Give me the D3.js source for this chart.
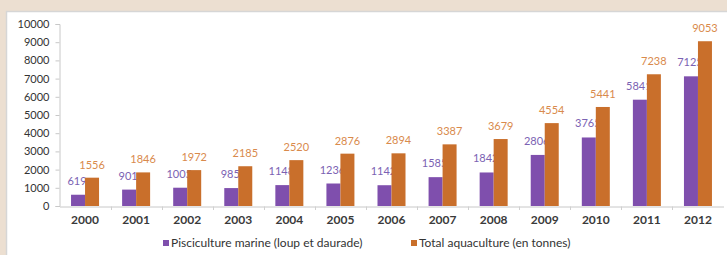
<!DOCTYPE html>
<html><head><meta charset="utf-8">
<script src="https://cdn.jsdelivr.net/npm/d3@7"></script>
<style>
html,body{margin:0;padding:0;background:#ecdfd1;overflow:hidden;}
svg{display:block;}
</style></head>
<body><svg id="c" width="727" height="255"></svg>
<script>
const years = ["2000","2001","2002","2003","2004","2005","2006","2007","2008","2009","2010","2011","2012"];
const pisciculture = [619,901,1005,985,1148,1236,1142,1585,1842,2806,3765,5841,7125];
const totalAqua = [1556,1846,1972,2185,2520,2876,2894,3387,3679,4554,5441,7238,9053];
const yTicks = [0,1000,2000,3000,4000,5000,6000,7000,8000,9000,10000];
const seriesNames = ["Pisciculture marine (loup et daurade)","Total aquaculture (en tonnes)"];
const colors = ["#7f4fad","#c96f2b"];
const labelColors = ["#7b62b3","#d98a4c"];

const svg = d3.select("#c");
svg.append("rect").attr("x",0).attr("y",0).attr("width",727).attr("height",255).attr("fill","#ecdfd1");
svg.append("rect").attr("x",6).attr("y",11).attr("width",721).attr("height",244).attr("fill","#fff");
svg.append("path").attr("d","M6.5,255V11.5H727").attr("fill","none").attr("stroke","#d6d6d6").attr("stroke-width",1.5);

const x = d3.scaleBand().domain(years).range([59.5,723.5]).paddingInner(0).paddingOuter(0);
const y = d3.scaleLinear().domain([0,10000]).range([206,24]);
const bw = 14;
const font = "Lato, 'Open Sans', sans-serif";

// y axis
const ya = svg.append("g").attr("transform","translate(59.5,0)")
  .call(d3.axisLeft(y).tickValues(yTicks).tickSize(4).tickPadding(6).tickFormat(d3.format("d")));
ya.select(".domain").attr("stroke","#c8c8c8");
ya.selectAll(".tick line").attr("stroke","#c8c8c8");
ya.selectAll("text").attr("font-family",font).attr("font-size",11).attr("fill","#333");

// x axis
const xa = svg.append("g").attr("transform","translate(0,206.5)")
  .call(d3.axisBottom(x).tickSize(0).tickPadding(9));
xa.select(".domain").attr("stroke","#c8c8c8");
xa.selectAll("text").attr("font-family",font).attr("font-size",12).attr("font-weight","bold").attr("fill","#3a3a3a");
svg.append("g").selectAll("line").data(years.slice(1)).join("line")
  .attr("x1",d=>Math.round(x(d))+0.5).attr("x2",d=>Math.round(x(d))+0.5)
  .attr("y1",206.5).attr("y2",210).attr("stroke","#d0d0d0");

// purple bars
svg.append("g").selectAll("rect").data(pisciculture).join("rect")
  .attr("x",(d,i)=>x(years[i])+x.bandwidth()/2-bw)
  .attr("y",d=>y(d)).attr("width",bw).attr("height",d=>y(0)-y(d))
  .attr("fill",colors[0]);
// purple labels (drawn under orange bars)
svg.append("g").selectAll("text").data(pisciculture).join("text")
  .attr("x",(d,i)=>x(years[i])+x.bandwidth()/2-bw/2-1)
  .attr("y",d=>y(d)-10).attr("text-anchor","middle")
  .attr("font-family",font).attr("font-size",11).attr("fill",labelColors[0])
  .text(d=>d);
// orange bars
svg.append("g").selectAll("rect").data(totalAqua).join("rect")
  .attr("x",(d,i)=>x(years[i])+x.bandwidth()/2)
  .attr("y",d=>y(d)).attr("width",bw).attr("height",d=>y(0)-y(d))
  .attr("fill",colors[1]);
svg.append("g").selectAll("text").data(totalAqua).join("text")
  .attr("x",(d,i)=>x(years[i])+x.bandwidth()/2+bw/2)
  .attr("y",d=>y(d)-9).attr("text-anchor","middle")
  .attr("font-family",font).attr("font-size",11).attr("fill",labelColors[1])
  .text(d=>d);

// legend
const lx = [163,411];
const lg = svg.append("g").selectAll("g").data(seriesNames).join("g")
  .attr("transform",(d,i)=>`translate(${lx[i]},247)`);
lg.append("rect").attr("x",0).attr("y",-7).attr("width",6).attr("height",6).attr("fill",(d,i)=>colors[i]);
lg.append("text").attr("x",8).attr("y",0).attr("font-family",font).attr("font-size",12)
  .attr("fill","#333").text(d=>d);
</script>
</body></html>
